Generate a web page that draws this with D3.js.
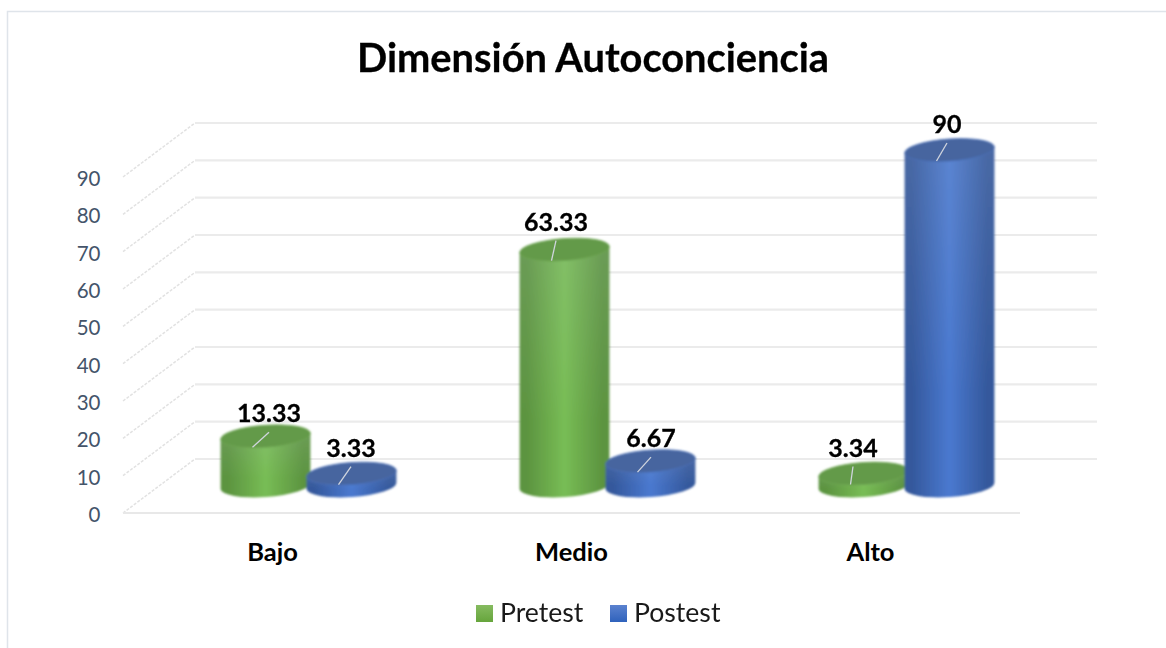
<!DOCTYPE html>
<html><head><meta charset="utf-8">
<style>
html,body{margin:0;padding:0;background:#fff;}
svg{display:block;}
text{font-family:Lato,"Noto Sans",sans-serif;}
</style>
<script src="https://cdn.jsdelivr.net/npm/d3@7"></script>
</head><body>
<svg id="c" width="1166" height="648"></svg>
<script>
const categories = ["Bajo","Medio","Alto"];
const seriesNames = ["Pretest","Postest"];
const pretest = [13.33,63.33,3.34];
const postest = [3.33,6.67,90];
const valueLabels = [["13.33","63.33","3.34"],["3.33","6.67","90"]];
const yTicks = [0,10,20,30,40,50,60,70,80,90];

const W=1166,H=648;
const svg=d3.select("#c");
const defs=svg.append("defs");
// plot geometry
const frontL=123,frontR=1020,depthX=72,depthY=-54,rx=45,ry=11,tilt=-4;
const y=d3.scaleLinear().domain([0,90]).range([513,177]);
const x=d3.scaleBand().domain(categories).range([frontL,frontR]);
const sub=d3.scaleBand().domain(seriesNames).range([-86,86]);
const midX=depthX/2, midY=depthY/2;

const palette={
 Pretest:{edge:"#5c9440",mid:"#78bd55",top:"#649a4a",rim:"#6fa852",swatch:["#86bb60","#66a53c"]},
 Postest:{edge:"#34589c",mid:"#4a79d0",top:"#46659f",rim:"#4a70b8",swatch:["#5b82cf","#2f62bc"]}
};
seriesNames.forEach(s=>{
  const p=palette[s];
  const g=defs.append("linearGradient").attr("id","body"+s).attr("x1",0).attr("x2",1).attr("y1",0).attr("y2",0);
  [[0,p.edge],[0.08,p.edge],[0.5,p.mid],[0.92,p.edge],[1,p.edge]].forEach(d=>g.append("stop").attr("offset",d[0]).attr("stop-color",d[1]));
  const v=defs.append("linearGradient").attr("id","sw"+s).attr("x1",0).attr("x2",0).attr("y1",0).attr("y2",1);
  p.swatch.forEach((c,i)=>v.append("stop").attr("offset",i).attr("stop-color",c));
});
const sheen=defs.append("linearGradient").attr("id","sheen").attr("x1",0).attr("x2",0).attr("y1",0).attr("y2",1);
sheen.append("stop").attr("offset",0).attr("stop-color","#c8d0dc").attr("stop-opacity",0.14);
sheen.append("stop").attr("offset",0.7).attr("stop-color","#c8d0dc").attr("stop-opacity",0);
const blur=defs.append("filter").attr("id","soft").attr("x","-10%").attr("y","-10%").attr("width","120%").attr("height","120%");
blur.append("feGaussianBlur").attr("stdDeviation",0.9);

// frame
svg.append("path").attr("d",`M7.5,${H} L7.5,11.5 L${W},11.5`).attr("fill","none").attr("stroke","#dfe4ea").attr("stroke-width",1.5);

// walls
const grid=svg.append("g");
yTicks.forEach(t=>{
  grid.append("line").attr("x1",frontL+depthX).attr("x2",1097).attr("y1",y(t)+depthY).attr("y2",y(t)+depthY)
    .attr("stroke","#ebebeb").attr("stroke-width",2.2);
  grid.append("line").attr("x1",frontL).attr("x2",frontL+depthX).attr("y1",y(t)).attr("y2",y(t)+depthY)
    .attr("stroke","#e2e2e2").attr("stroke-width",1.5).attr("stroke-dasharray","3 1.5");
});
grid.append("line").attr("x1",frontL).attr("x2",frontR).attr("y1",y(0)).attr("y2",y(0)).attr("stroke","#e8e8e8").attr("stroke-width",2.2);

// y axis
const ax=svg.append("g").attr("transform","translate(100.5,1)").call(d3.axisLeft(y).tickValues(yTicks).tickSize(0).tickPadding(0));
ax.select(".domain").remove();
ax.selectAll("text").attr("fill","#44546a").style("font-size","20.5px").style("font-family","Lato,'Noto Sans',sans-serif").attr("dy","0.36em");

// category labels
svg.selectAll(".cat").data(categories).join("text").attr("class","cat")
  .attr("x",d=>x(d)+x.bandwidth()/2).attr("y",561).attr("text-anchor","middle")
  .attr("font-size",25.5).attr("font-weight",700).attr("fill","#000").text(d=>d);

// cylinders
const rows=[];
seriesNames.forEach((s,si)=>{
  const vals=si===0?pretest:postest;
  categories.forEach((c,ci)=>rows.push({s,si,c,ci,v:vals[ci]}));
});
const labelShift=[[3.5,-8.5,-10.5],[-0.5,0.5,-2.5]];
const labelRise=[[23,28,26],[26,23,26]];
const th=tilt*Math.PI/180, ex=rx*Math.cos(th), ey=rx*Math.sin(th);
const cx=d=>x(d.c)+x.bandwidth()/2+midX+sub(d.s)+sub.bandwidth()/2;
const base=y(0)+midY;
const topY=d=>y(d.v)+midY;

const bars=svg.append("g").attr("filter","url(#soft)");
rows.sort((a,b)=>a.ci-b.ci||a.si-b.si).forEach(d=>{
  const c=cx(d),t=topY(d),p=palette[d.s];
  const g=bars.append("g");
  const body=`M${c-ex},${t-ey} L${c-ex},${base-ey} A${rx},${ry} ${tilt} 0 0 ${c+ex},${base+ey} L${c+ex},${t+ey} Z`;
  g.append("path").attr("fill",`url(#body${d.s})`).attr("d",body);
  g.append("path").attr("fill","url(#sheen)").attr("d",body);
  g.append("ellipse").attr("cx",0).attr("cy",0).attr("rx",rx).attr("ry",ry)
   .attr("transform",`translate(${c},${t}) rotate(${tilt})`).attr("fill",p.top).attr("stroke",p.rim).attr("stroke-width",0.8);
});

// leader lines and value labels
rows.forEach(d=>{
  const c=cx(d),t=topY(d);
  const lx=c+labelShift[d.si][d.ci], ly=t-labelRise[d.si][d.ci];
  svg.append("line").attr("x1",lx).attr("y1",ly+19).attr("x2",c-13).attr("y2",t+11)
    .attr("stroke","#d0d5de").attr("stroke-width",1.3);
  svg.append("text").attr("x",lx).attr("y",ly+9).attr("text-anchor","middle")
    .attr("font-size",25).attr("font-weight",700).attr("stroke","#000").attr("stroke-width",0.3).attr("fill","#000").text(valueLabels[d.si][d.ci]);
});

// title
svg.append("text").attr("x",593).attr("y",72).attr("text-anchor","middle")
  .attr("font-size",39.8).attr("font-weight",700).attr("stroke","#000").attr("stroke-width",0.3).attr("fill","#000").text("Dimensión Autoconciencia");

// legend
const legX=[476,610];
seriesNames.forEach((s,i)=>{
  svg.append("rect").attr("x",legX[i]).attr("y",605).attr("width",17).attr("height",17).attr("fill",`url(#sw${s})`);
  svg.append("text").attr("x",legX[i]+24).attr("y",622).attr("font-size",26.6).attr("fill","#1a1a1a").text(s);
});
</script>
</body></html>
